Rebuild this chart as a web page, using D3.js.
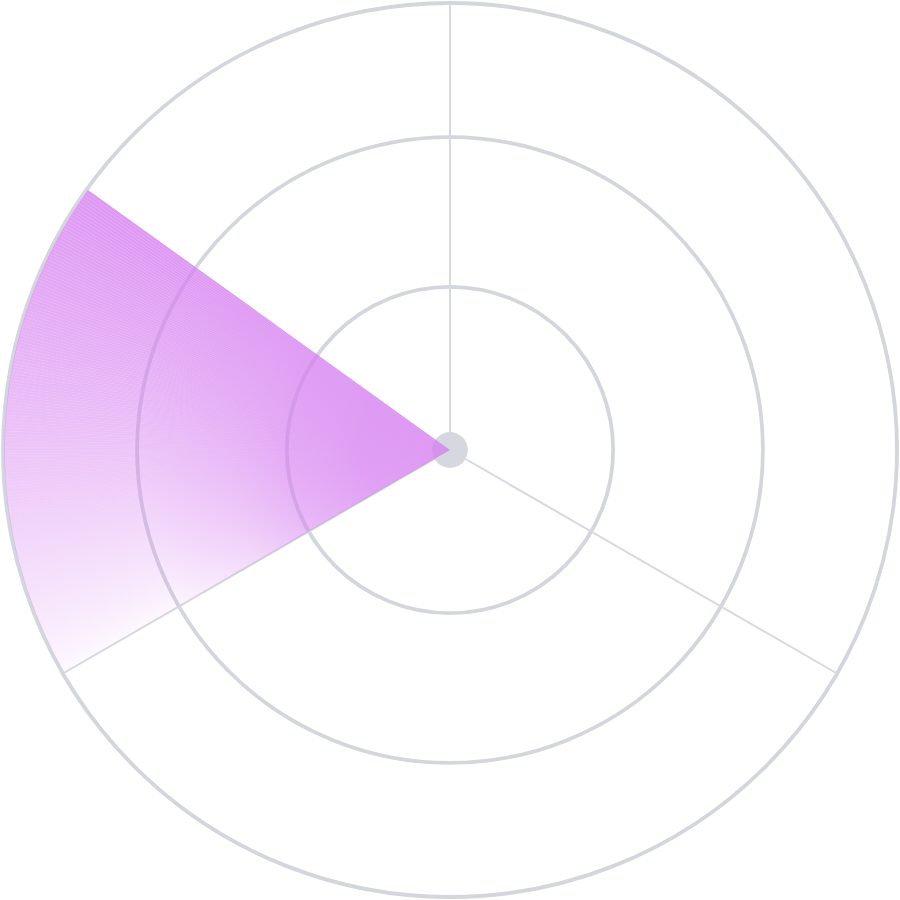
<!DOCTYPE html>
<html><head><meta charset="utf-8">
<script src="https://cdn.jsdelivr.net/npm/d3@7"></script>
<style>html,body{margin:0;padding:0;background:#fff;} svg{display:block}</style>
</head><body>
<svg id="chart" width="900" height="900"></svg>
<script>
// ---- data ----
const ringValues = [36.5, 70, 100];      // concentric grid rings (value units)
const axisAngles = [0, 120, 240];        // radial axis lines, degrees clockwise from top
const radialDomain = [0, 100];
const sweepAngles = [240, 305.7];        // start / end of the sweep wedge, degrees
const sweepSteps = 158;                  // number of thin slices forming the sweep
const sweepOpacity = [0.04, 0.8];        // rim opacity at start / end angle
const coreOpacity = 0.8;                 // opacity near the centre
const coreBlend = [[0, 1], [0.2, 0.9], [0.35, 0.66], [0.5, 0.32], [0.7, 0.03], [1, 0]]; // [radius fraction, core weight]
const hubValue = 4;                      // radius of the hub dot (value units)

// ---- layout ----
const cx = 450, cy = 450;
const purple = "#d67ff0";
const svg = d3.select("#chart");
const r = d3.scaleLinear().domain(radialDomain).range([0, 447]);
const rad = d3.scaleLinear().domain([0, 360]).range([0, 2 * Math.PI]);

const g = svg.append("g").attr("transform", `translate(${cx},${cy})`);

// grid rings
g.selectAll("circle.ring").data(ringValues).join("circle")
  .attr("class", "ring").attr("r", d => r(d))
  .attr("fill", "none").attr("stroke", "#d3d6dd").attr("stroke-width", 3.8);

// radial axes
g.selectAll("line.axis").data(axisAngles).join("line")
  .attr("class", "axis")
  .attr("x1", 0).attr("y1", 0)
  .attr("x2", d => d3.pointRadial(rad(d), r(100))[0])
  .attr("y2", d => d3.pointRadial(rad(d), r(100))[1])
  .attr("stroke", "#d6d9e0").attr("stroke-width", 2);

// hub
g.append("circle").attr("r", r(hubValue)).attr("fill", "#d5d8df");

// sweep wedge
const idx = d3.range(sweepSteps);
const a = d3.scaleLinear().domain([0, sweepSteps]).range(sweepAngles);
const frac = d3.scaleLinear().domain([0, sweepSteps - 1]).range([0, 1]);
const rimOp = i => sweepOpacity[0] + (sweepOpacity[1] - sweepOpacity[0]) * Math.pow(frac(i), 0.8);
const target = (i, w) => { const f = rimOp(i); return f + (coreOpacity - f) * w; };

const defs = svg.append("defs");
const mkGrad = (id, opFn) => {
  const gr = defs.append("radialGradient").attr("id", id)
    .attr("gradientUnits", "userSpaceOnUse").attr("cx", 0).attr("cy", 0).attr("r", r(100));
  gr.selectAll("stop").data(coreBlend).join("stop")
    .attr("offset", d => d[0]).attr("stop-color", purple)
    .attr("stop-opacity", d => opFn(d[1]));
};
// base layer: whole wedge at the trailing-edge profile
mkGrad("base", w => target(0, w));
// slice layers: top-up so that base + slice reaches the target for that angle
idx.forEach(i => mkGrad("s" + i, w => Math.max(0, 1 - (1 - target(i, w)) / (1 - target(0, w)))));

const arc = d3.arc().innerRadius(0).outerRadius(r(99.7));
g.append("path")
  .attr("d", arc({startAngle: rad(sweepAngles[0]), endAngle: rad(sweepAngles[1])}))
  .attr("fill", "url(#base)");
g.append("g").selectAll("path").data(idx).join("path")
  .attr("d", i => arc({startAngle: rad(a(i)), endAngle: rad(a(i + 1))}))
  .attr("fill", i => `url(#s${i})`);
</script>
</body></html>
